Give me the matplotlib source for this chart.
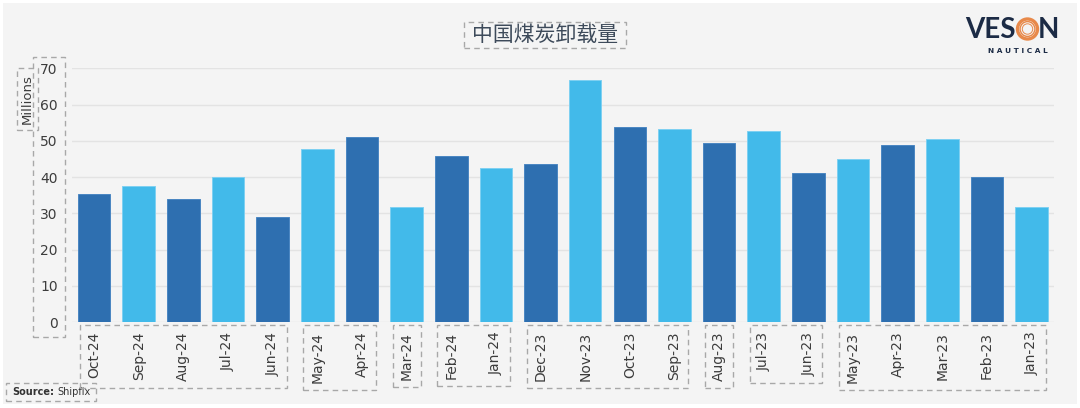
import matplotlib
matplotlib.use("Agg")
import matplotlib.pyplot as plt
from matplotlib.patches import Rectangle, Circle
from matplotlib.transforms import Bbox, IdentityTransform

# ---------------- data ----------------
months = ["Oct-24", "Sep-24", "Aug-24", "Jul-24", "Jun-24", "May-24", "Apr-24",
          "Mar-24", "Feb-24", "Jan-24", "Dec-23", "Nov-23", "Oct-23", "Sep-23",
          "Aug-23", "Jul-23", "Jun-23", "May-23", "Apr-23", "Mar-23", "Feb-23",
          "Jan-23"]
volumes = [35.2, 37.6, 33.9, 40.1, 29.0, 47.7, 51.0, 31.7, 45.9, 42.4, 43.5,
           66.8, 53.8, 53.2, 49.3, 52.6, 41.0, 44.9, 48.8, 50.4, 40.1, 31.7]
title = "中国煤炭卸载量"
y_label = "Millions"
y_ticks = [0, 10, 20, 30, 40, 50, 60, 70]
source_bold = "Source:"
source_name = "Shipfix"
label_groups = [(0, 4), (5, 6), (7, 7), (8, 9), (10, 13), (14, 14), (15, 16), (17, 21)]

DARK = "#2E6FB0"
LIGHT = "#42BAEA"
BG = "#F4F4F4"
TXT = "#3C3C3C"
BOX = "#A8A8A8"

W, H = 1080, 408
fig = plt.figure(figsize=(W / 100, H / 100), dpi=100, facecolor="white")

def fx(x):
    return x / W

def fy(y):
    return 1 - y / H

# grey background panel
fig.patches.append(Rectangle((fx(3), fy(404)), fx(1074), (401) / H,
                             transform=fig.transFigure, facecolor=BG,
                             edgecolor="none", zorder=-10))

ax = fig.add_axes([fx(71.7), fy(322), fx(1054 - 71.7), (322 - 68.3) / H])
ax.set_facecolor(BG)

colors = [DARK if i % 2 == 0 else LIGHT for i in range(len(months))]
edges = ["#4A86C2" if i % 2 == 0 else "#7FD0F2" for i in range(len(months))]
x = list(range(len(months)))
ax.bar(x, volumes, width=0.73, color=colors, edgecolor=edges, linewidth=0.7, zorder=3)

ax.set_xlim(-0.5, len(months) - 0.5)
ax.set_ylim(0, 70)
ax.set_yticks(y_ticks)
ax.set_yticklabels([str(v) for v in y_ticks], fontsize=10, color=TXT,
                   family="DejaVu Sans")
ax.set_xticks(x)
ax.set_xticklabels(months, rotation=90, fontsize=10, color=TXT, family="DejaVu Sans")
ax.tick_params(axis="y", length=0, pad=10)
ax.tick_params(axis="x", length=0, pad=7)
ax.yaxis.grid(True, color="#E3E3E3", linewidth=1.0, zorder=0)
ax.set_axisbelow(True)
for s in ax.spines.values():
    s.set_visible(False)

# y label (Millions)
ylab = fig.text(fx(27), fy(99), y_label, rotation=90, ha="center", va="center",
                fontsize=9.5, color=TXT, family="DejaVu Sans")

# title
ttl = fig.text(fx(545), fy(35), title, ha="center", va="center", fontsize=15,
               color="#3D4A5A", family=["Noto Sans CJK SC", "DejaVu Sans"])

# source
src1 = fig.text(fx(12), fy(392), source_bold, ha="left", va="center", fontsize=7,
                color="#333333", fontweight="bold", family="DejaVu Sans")

# logo
navy = "#1C2B45"
orange = "#E8894A"
fig.text(fx(1016), fy(29.5), "VES", ha="right", va="center", fontsize=20,
         fontweight="bold", color=navy, family="Lato")
fig.text(fx(1038), fy(29.5), "N", ha="left", va="center", fontsize=20,
         fontweight="bold", color=navy, family="Lato")
cx, cy = 1027.5, H - 29
for r_, lw in [(10.0, 2.4), (7.4, 1.0), (5.2, 0.7)]:
    fig.add_artist(Circle((cx, cy), r_, transform=IdentityTransform(),
                          facecolor="none", edgecolor=orange, linewidth=lw))
fig.text(fx(1018), fy(51), "N A U T I C A L", ha="center", va="center",
         fontsize=5.3, fontweight="bold", color=navy, family="DejaVu Sans")

# ---- dashed edit boxes around text groups (computed from text extents) ----
fig.canvas.draw()
r = fig.canvas.get_renderer()

def dashed_box(bbs, pad_x=7, pad_y=7):
    bb = Bbox.union(bbs)
    rect = Rectangle((bb.x0 - pad_x, bb.y0 - pad_y), bb.width + 2 * pad_x,
                     bb.height + 2 * pad_y, transform=IdentityTransform(),
                     facecolor="none", edgecolor=BOX, linewidth=1.0,
                     linestyle=(0, (4, 3)), zorder=20)
    fig.add_artist(rect)

xt = ax.get_xticklabels()
for a, b in label_groups:
    dashed_box([xt[i].get_window_extent(r) for i in range(a, b + 1)], 7, 7)
dashed_box([t.get_window_extent(r) for t in ax.get_yticklabels()], 7, 6)
dashed_box([ylab.get_window_extent(r)], 4, 6)
dashed_box([ttl.get_window_extent(r)], 8, 2)

src2 = fig.text(src1.get_window_extent(r).x1 / W + fx(3), fy(392), source_name,
                ha="left", va="center", fontsize=7, color="#333333",
                family="DejaVu Sans")
fig.canvas.draw()
dashed_box([src1.get_window_extent(r), src2.get_window_extent(r)], 6, 4)

fig.savefig("out.png", dpi=100, facecolor="white")
